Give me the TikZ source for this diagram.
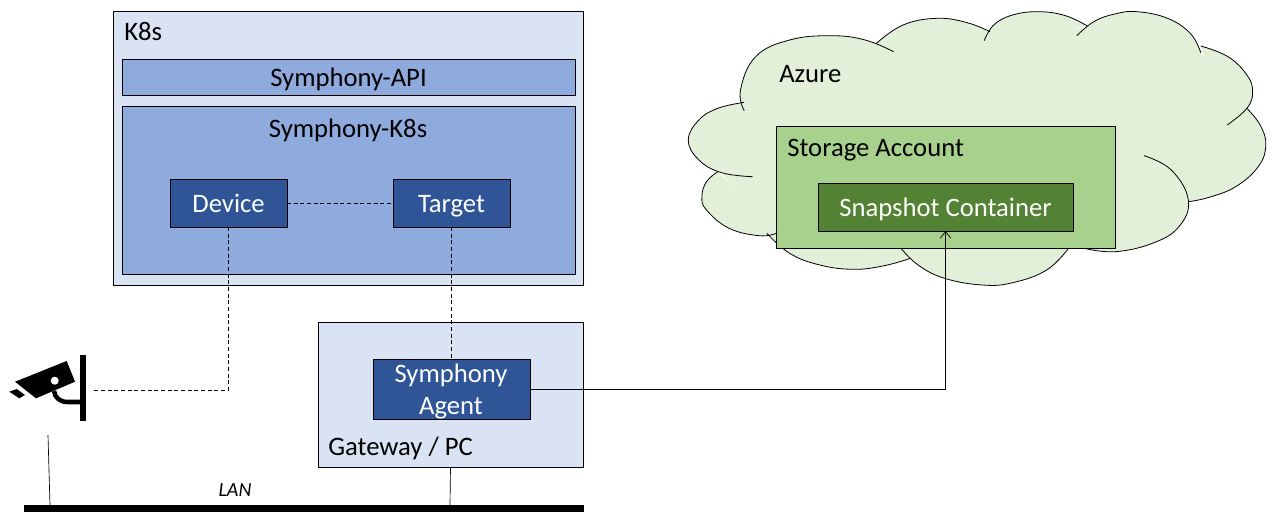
\documentclass[tikz,border=0pt]{standalone}
\usepackage{fontspec}
\setmainfont{Carlito}
\usetikzlibrary{
  positioning,
  arrows.meta
}

\definecolor{paleblue}{HTML}{DAE3F3}
\definecolor{midblue}{HTML}{8FAADC}
\definecolor{darkblue}{HTML}{2F5597}
\definecolor{palegreen}{HTML}{E2F0D9}
\definecolor{midgreen}{HTML}{A9D18E}
\definecolor{darkgreen}{HTML}{548235}

\tikzset{
  box/.style = {rectangle, draw = black, line width = .75pt, anchor = north west, inner sep = 0pt, outer sep = 0pt, font = \fontsize{20}{24}\selectfont, text height = 16pt, text depth = 2pt},
  darkbox/.style = {box, text = white},
  caption/.style = {font = \fontsize{20}{24}\selectfont, inner sep = 0pt, anchor = base west},
  link/.style = {line width = .5pt},
  dashlink/.style = {line width = .5pt, densely dashed}
}

% one plot per bulge of the cloud
\newcommand{\cloudlobes}[1]{
  \path[#1] plot[smooth, tension=.7] coordinates {(744.2,110.7) (740.5,90) (755.6,56.7) (789.6,40) (831.2,35.7) (865.2,40) (893.5,51.7)};
  \path[#1] plot[smooth, tension=.7] coordinates {(876.5,43.3) (903,25) (937,18.3) (967.2,22.7) (989.9,31.7)};
  \path[#1] plot[smooth, tension=.7] coordinates {(984.2,40.7) (993.7,25) (1012.6,15) (1039,11.7) (1065.5,15.7) (1087.4,26)};
  \path[#1] plot[smooth, tension=.7] coordinates {(1076.8,35.7) (1093.8,21.7) (1114.6,14) (1137.3,11.7) (1167.5,18.3) (1190.2,33.3) (1200.8,52.7)};
  \path[#1] plot[smooth, tension=.7] coordinates {(1200.8,46) (1228,56.7) (1246.9,75) (1252.6,91.7) (1246.9,108.3) (1227.2,125)};
  \path[#1] plot[smooth, tension=.7] coordinates {(1246.9,108.3) (1260.1,125) (1265.8,145) (1258.2,166.7) (1235.6,186.7) (1209.1,197.3) (1188.3,201.7)};
  \path[#1] plot[smooth, tension=.7] coordinates {(1144.1,155.7) (1171.3,170) (1188.3,200) (1178.9,226.7) (1152.4,243.3) (1114.6,251.7) (1084.4,248.3)};
  \path[#1] plot[smooth, tension=.7] coordinates {(1068.5,248.3) (1046.6,270) (1012.6,282.7) (982.3,285) (944.6,278.3) (918.1,265) (901.1,248.3)};
  \path[#1] plot[smooth, tension=.7] coordinates {(910.5,258.3) (884.1,265.7) (853.8,269.3) (819.8,265) (789.6,253.3) (766.9,233.3)};
  \path[#1] plot[smooth, tension=.7] coordinates {(776.4,233.3) (759.4,235.7) (729.1,228.3) (706.5,210) (701.9,196.7) (706.5,181.7) (717.8,171.7)};
  \path[#1] plot[smooth, tension=.7] coordinates {(752.6,176.7) (721.6,172.7) (698.9,160) (688.3,140) (698.9,120) (717.8,108.3) (744.2,102.3)};
}

\begin{document}
\begin{tikzpicture}[x = .75pt, y = -.75pt]
    \useasboundingbox (0,0) rectangle (1273,519);

    % cloud
    \cloudlobes{fill = palegreen}
    \path[fill = palegreen, draw = palegreen, line width = 3pt, line join = round] (749,107) -- (877,43.5) -- (984,33) -- (1080,30) -- (1197,52) -- (1246.5,109) -- (1187.5,200.5) -- (1084,245) -- (905,256) -- (770,231) -- (724,173) -- cycle;
    \cloudlobes{draw = black, line width = .6pt}
    \node[caption] (azure) at (779,82) {Azure};

    \node[box, fill = midgreen, minimum width = 254.25pt, minimum height = 91.5pt] (storage) at (776,126) {};
    \node[caption] (storagetext) at (787,156) {Storage Account};
    \node[darkbox, fill = darkgreen, minimum width = 191.25pt, minimum height = 36pt] (snapshot) at (818,183) {Snapshot Container};

    % k8s side
    \node[box, fill = paleblue, minimum width = 352.5pt, minimum height = 205.5pt] (k8s) at (113,11) {};
    \node[caption] (k8stext) at (124,40) {K8s};
    \node[box, fill = midblue, minimum width = 339.75pt, minimum height = 27pt] (api) at (122,59) {Symphony-API};
    \node[box, fill = midblue, minimum width = 339.75pt, minimum height = 126pt] (operator) at (122,106) {};
    \node[caption, anchor = base] (operatortext) at (348,137) {Symphony-K8s};
    \node[darkbox, fill = darkblue, minimum width = 87.75pt, minimum height = 36pt] (device) at (170,179) {Device};
    \node[darkbox, fill = darkblue, minimum width = 87.75pt, minimum height = 36pt] (target) at (393,179) {Target};

    % gateway
    \node[box, fill = paleblue, minimum width = 198.75pt, minimum height = 108.75pt] (gateway) at (318,322) {};
    \node[caption] (gatewaytext) at (328,455) {Gateway / PC};
    \node[box, fill = darkblue, minimum width = 117.75pt, minimum height = 45pt] (agent) at (373,359) {};
    \node[caption, anchor = base, text = white] (agenttop) at (451,382) {Symphony};
    \node[caption, anchor = base, text = white] (agentbottom) at (451,414) {Agent};

    % lan
    \node[rectangle, fill = black, anchor = north west, inner sep = 0pt, minimum width = 420pt, minimum height = 5.25pt] (lan) at (24,504.5) {};
    \node[font = \fontsize{15}{18}\selectfont\itshape, inner sep = 0pt, anchor = base] (lantext) at (235,496) {LAN};

    % camera
    \fill[black] (15,381.7) -- (66.7,361) -- (75,381.7) -- (36,398.3) -- cycle;
    \fill[black] (9.3,391.7) -- (16.7,389) -- (25,395) -- (19.3,398.3) -- cycle;
    \fill[white] (54.7,380.7) circle (3pt);
    \fill[black] (79.7,355) rectangle (85.7,421);
    \draw[line width = 3.4pt] (80,402) -- (68,402) .. controls (60,402) and (55,398) .. (54,391);
    \coordinate (camera) at (94,390);
    \coordinate (camerafoot) at (48,435);
    \coordinate (camerabus) at (50,505);
    \coordinate (gatewaybus) at (450,505);

    % connectors
    \draw[dashlink] (device) -- (target);
    \draw[dashlink] (target) -- (agent);
    \draw[dashlink] (device) |- (camera);
    \draw[link, -{Straight Barb[length=5pt, width=8pt]}] (agent) -| (snapshot);
    \draw[link] (camerafoot) -- (camerabus);
    \draw[link] (gateway.south) -- (gatewaybus);
\end{tikzpicture}
\end{document}
